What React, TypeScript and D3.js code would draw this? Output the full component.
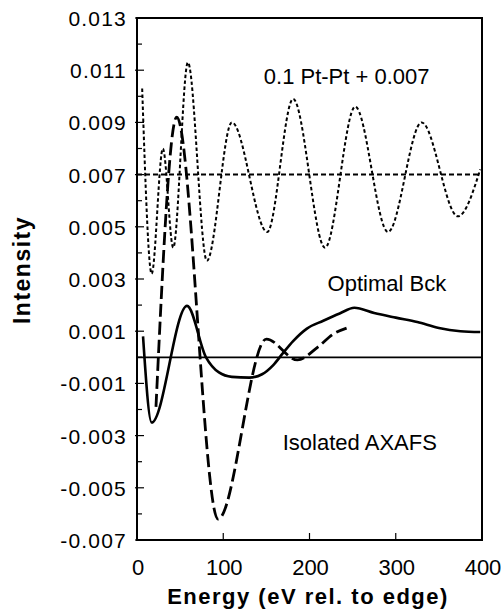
import React from "react";
import * as d3 from "d3";

// Dotted curve: 0.1 Pt-Pt + 0.007 (extrema)
const ptEnergy = [6, 17, 30, 42, 59, 81, 110, 151, 181, 218, 253, 291, 330, 372, 398];
const ptValue = [0.0103, 0.0032, 0.008, 0.0042, 0.0113, 0.0037, 0.009, 0.0048, 0.0099, 0.0042, 0.0096, 0.0048, 0.009, 0.0054, 0.0072];

// Dashed curve: Isolated AXAFS
const axEnergy = [22, 46, 94, 150, 186, 210, 228, 243];
const axValue = [-0.0019, 0.0092, -0.0062, 0.0007, -0.0001, 0.0004, 0.0009, 0.00112];

// Solid curve: Optimal Bck
const bckEnergy = [7, 17, 58, 80, 95, 110, 130, 145, 158, 169, 181, 197, 216, 235, 252, 275, 300, 325, 350, 375, 398];
const bckValue = [0.0008, -0.0025, 0.00197, 0.0, -0.00058, -0.00075, -0.00078, -0.00065, -0.0003, 0.00015, 0.00062, 0.0011, 0.0014, 0.00168, 0.0019, 0.0017, 0.00152, 0.00135, 0.00112, 0.001, 0.00097];

const refLevels = [0.007, 0];

const xTicks = [0, 100, 200, 300, 400];
const yMajorTicks = [-0.007, -0.005, -0.003, -0.001, 0.001, 0.003, 0.005, 0.007, 0.009, 0.011, 0.013];
const yMinorTicks = [-0.006, -0.004, -0.002, 0, 0.002, 0.004, 0.006, 0.008, 0.01, 0.012];

const labels = [
  { text: "0.1 Pt-Pt + 0.007", e: 147, v: 0.01047 },
  { text: "Optimal Bck", e: 221, v: 0.00255 },
  { text: "Isolated AXAFS", e: 169, v: -0.00355 },
];

const W = 503;
const H = 613;
const FONT = "'Liberation Sans', Arial, Helvetica, sans-serif";

export default function App() {
  const x = d3.scaleLinear().domain([0, 400]).range([137, 482]);
  const y = d3.scaleLinear().domain([-0.007, 0.013]).range([540, 18]);

  const line = d3
    .line<[number, number]>()
    .x((d) => x(d[0]))
    .y((d) => y(d[1]))
    .curve(d3.curveMonotoneX);

  const zip = (a: number[], b: number[]) => a.map((v, i) => [v, b[i]] as [number, number]);

  const ptPath = line(zip(ptEnergy, ptValue)) || "";
  const axPath = line(zip(axEnergy, axValue)) || "";
  const bckPath = line(zip(bckEnergy, bckValue)) || "";

  const [x0, x1] = x.range();
  const [yb, yt] = y.range();

  return (
    <svg
      width={W}
      height={H}
      style={{ position: "absolute", left: 0, top: 0, background: "#fff" }}
      fontFamily={FONT}
    >
      <rect x={0} y={0} width={W} height={H} fill="#fff" />
      {/* reference lines */}
      <line x1={x(0)} x2={x(400)} y1={y(refLevels[0])} y2={y(refLevels[0])} stroke="#000" strokeWidth={2} strokeDasharray="5,3" />
      <line x1={x(0)} x2={x(400)} y1={y(refLevels[1])} y2={y(refLevels[1])} stroke="#000" strokeWidth={1.8} />
      {/* curves */}
      <path d={ptPath} fill="none" stroke="#000" strokeWidth={2} strokeDasharray="3.5,2.5" />
      <path d={axPath} fill="none" stroke="#000" strokeWidth={2.8} strokeDasharray="13,5" />
      <path d={bckPath} fill="none" stroke="#000" strokeWidth={2.6} />
      {/* frame */}
      <rect x={x0} y={yt} width={x1 - x0} height={yb - yt} fill="none" stroke="#000" strokeWidth={2} />
      {/* y ticks */}
      {yMajorTicks.map((t) => (
        <g key={"ym" + t}>
          <line x1={x0 - 2} x2={x0 + 7} y1={y(t)} y2={y(t)} stroke="#000" strokeWidth={1.2} />
          <text x={127} y={y(t) + 8} textAnchor="end" fontSize={21} letterSpacing={1.2} fill="#000">
            {d3.format(".3f")(t).replace("−", "-")}
          </text>
        </g>
      ))}
      {yMinorTicks.map((t) => (
        <line key={"yn" + t} x1={x0} x2={x0 + 5} y1={y(t)} y2={y(t)} stroke="#000" strokeWidth={1.2} />
      ))}
      {/* x ticks */}
      {xTicks.map((t) => (
        <g key={"x" + t}>
          {t > 0 && t < 400 && <line x1={x(t)} x2={x(t)} y1={yb} y2={yb - 7} stroke="#000" strokeWidth={1.2} />}
          <text x={x(t) + 1} y={575} textAnchor="middle" fontSize={22} fill="#000">
            {t}
          </text>
        </g>
      ))}
      {/* axis titles */}
      <text x={308} y={604} textAnchor="middle" fontSize={22} fontWeight="bold" letterSpacing={1.5} fill="#000">
        Energy (eV rel. to edge)
      </text>
      <text
        transform={`translate(30,270) rotate(-90)`}
        textAnchor="middle"
        fontSize={23}
        fontWeight="bold"
        letterSpacing={1.5}
        fill="#000"
      >
        Intensity
      </text>
      {/* curve labels */}
      {labels.map((l) => (
        <text key={l.text} x={x(l.e)} y={y(l.v)} fontSize={22} fill="#000">
          {l.text}
        </text>
      ))}
    </svg>
  );
}
